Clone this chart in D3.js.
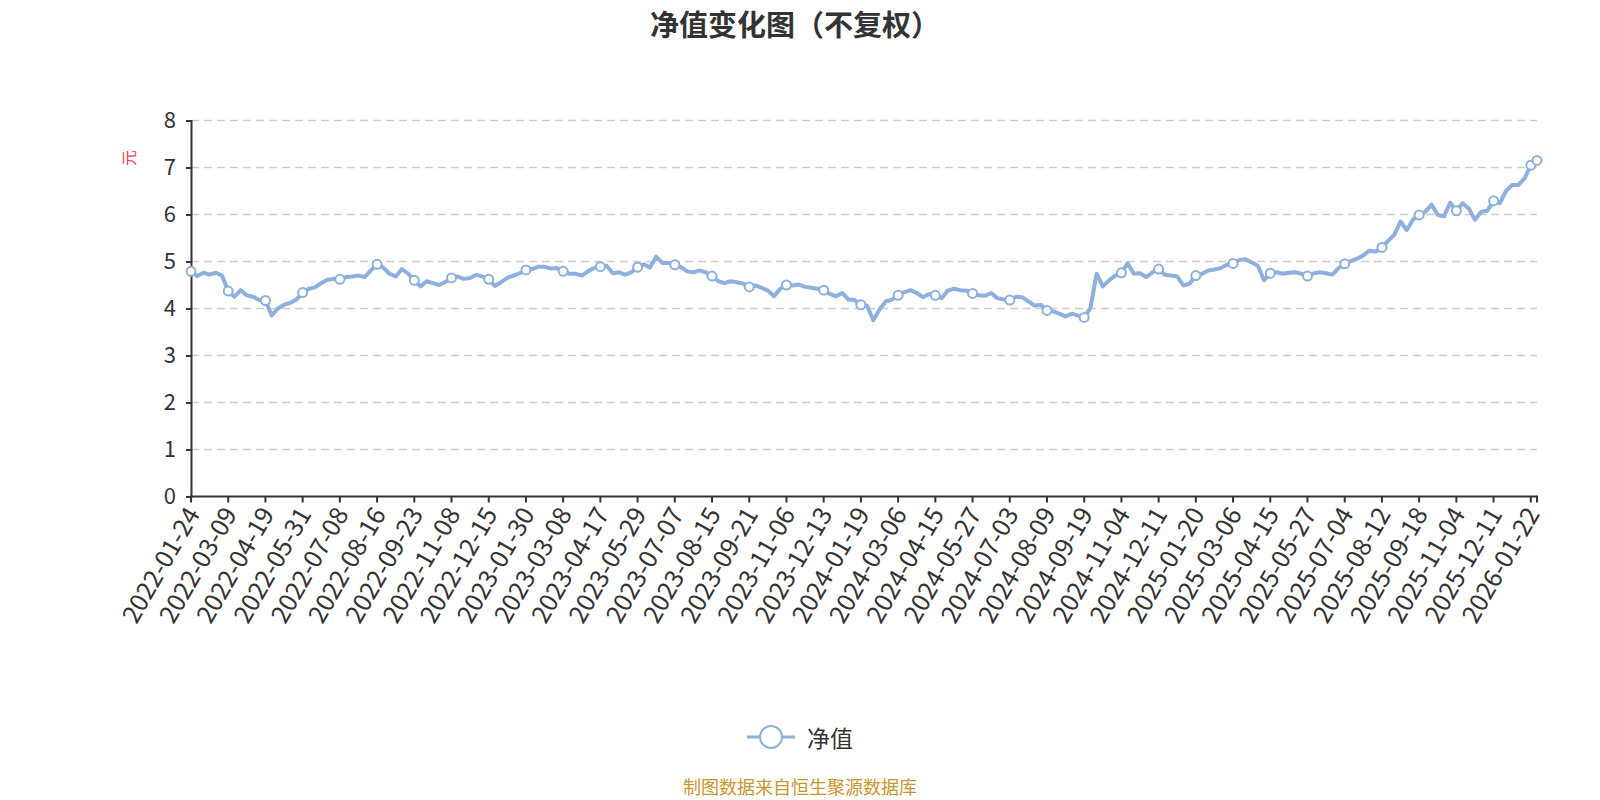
<!DOCTYPE html>
<html>
<head>
<meta charset="utf-8">
<script src="https://cdn.jsdelivr.net/npm/d3@7"></script>
<style>
  body { margin: 0; background: #fff; }
  #chart { width: 1600px; height: 800px; }
  text { font-family: "Noto Sans CJK SC", "Noto Sans", sans-serif; }
</style>
</head>
<body>
<div id="chart"></div>
<script>
// ||================================||
// || DATA                           ||
// ||================================||

var title = "净值变化图（不复权）",
    unitName = "元",
    seriesName = "净值",
    footer = "制图数据来自恒生聚源数据库";

var tickLabels = [
  "2022-01-24", "2022-03-09", "2022-04-19", "2022-05-31", "2022-07-08", "2022-08-16",
  "2022-09-23", "2022-11-08", "2022-12-15", "2023-01-30", "2023-03-08", "2023-04-17",
  "2023-05-29", "2023-07-07", "2023-08-15", "2023-09-21", "2023-11-06", "2023-12-13",
  "2024-01-19", "2024-03-06", "2024-04-15", "2024-05-27", "2024-07-03", "2024-08-09",
  "2024-09-19", "2024-11-04", "2024-12-11", "2025-01-20", "2025-03-06", "2025-04-15",
  "2025-05-27", "2025-07-04", "2025-08-12", "2025-09-18", "2025-11-04", "2025-12-11",
  "2026-01-22"
];

var yTicks = [0, 1, 2, 3, 4, 5, 6, 7, 8];

// samples between two labelled dates
var stepsPerTick = 6;

var nav = [
  4.79, 4.69, 4.76, 4.72, 4.76, 4.70, 4.37,
  4.25, 4.39, 4.28, 4.25, 4.18, 4.17,
  3.85, 4.00, 4.08, 4.12, 4.19, 4.34,
  4.42, 4.45, 4.54, 4.61, 4.63, 4.62,
  4.67, 4.68, 4.70, 4.67, 4.81, 4.94,
  4.87, 4.74, 4.68, 4.84, 4.74, 4.60,
  4.47, 4.58, 4.54, 4.50, 4.56, 4.65,
  4.68, 4.63, 4.65, 4.72, 4.68, 4.62,
  4.48, 4.56, 4.65, 4.70, 4.75, 4.82,
  4.84, 4.89, 4.89, 4.85, 4.86, 4.79,
  4.74, 4.74, 4.70, 4.79, 4.86, 4.89,
  4.91, 4.75, 4.77, 4.72, 4.77, 4.88,
  4.94, 4.87, 5.10, 4.97, 4.97, 4.93,
  4.88, 4.79, 4.77, 4.81, 4.77, 4.69,
  4.58, 4.54, 4.58, 4.56, 4.53, 4.46,
  4.49, 4.44, 4.38, 4.26, 4.42, 4.50,
  4.49, 4.51, 4.46, 4.44, 4.42, 4.39,
  4.31, 4.26, 4.33, 4.19, 4.18, 4.08,
  4.06, 3.75, 3.98, 4.15, 4.19, 4.28,
  4.35, 4.39, 4.33, 4.24, 4.31, 4.28,
  4.22, 4.38, 4.42, 4.39, 4.38, 4.32,
  4.28, 4.27, 4.33, 4.22, 4.19, 4.18,
  4.25, 4.24, 4.15, 4.06, 4.08, 3.96,
  3.94, 3.89, 3.83, 3.89, 3.85, 3.81,
  4.01, 4.74, 4.47, 4.60, 4.70, 4.76,
  4.96, 4.74, 4.75, 4.67, 4.77, 4.84,
  4.72, 4.70, 4.68, 4.49, 4.53, 4.70,
  4.74, 4.81, 4.83, 4.86, 4.93, 4.96,
  5.03, 5.05, 4.98, 4.91, 4.60, 4.75,
  4.77, 4.74, 4.76, 4.77, 4.74, 4.69,
  4.75, 4.77, 4.75, 4.72, 4.86, 4.95,
  5.01, 5.06, 5.13, 5.23, 5.21, 5.30,
  5.44, 5.57, 5.85, 5.67, 5.89, 5.99,
  6.06, 6.21, 5.99, 5.96, 6.25, 6.08,
  6.24, 6.13, 5.89, 6.06, 6.08, 6.29,
  6.24, 6.50, 6.63, 6.63, 6.77, 7.05,
  7.15
];

// ||================================||
// || CHART                          ||
// ||================================||

var width = 1600,
    height = 800;

var margin = {left: 191, right: 63, top: 120.5, bottom: 303.5};

var lineColor = "#8db0de",
    axisColor = "#333";

var svg = d3.select("#chart")
  .append("svg")
    .attr("width", width)
    .attr("height", height);

var x = d3.scaleLinear()
    .domain([0, nav.length - 1])
    .range([margin.left, width - margin.right]);

var y = d3.scaleLinear()
    .domain([0, 8])
    .range([height - margin.bottom, margin.top]);

svg.append("text")
    .attr("x", 795)
    .attr("y", 23)
    .attr("text-anchor", "middle")
    .attr("dominant-baseline", "central")
    .attr("font-size", 29)
    .attr("font-weight", "bold")
    .attr("fill", "#333")
    .text(title);

// grid lines
svg.append("g")
  .selectAll("line")
  .data(yTicks.filter(function(d) { return d > 0; }))
  .enter().append("line")
    .attr("x1", x.range()[0])
    .attr("x2", x.range()[1])
    .attr("y1", function(d) { return y(d); })
    .attr("y2", function(d) { return y(d); })
    .attr("stroke", "#ccc")
    .attr("stroke-width", 1.5)
    .attr("stroke-dasharray", "8,5");

// y axis
var yAxis = svg.append("g")
    .attr("transform", "translate(" + margin.left + ",0)")
    .call(d3.axisLeft(y).tickValues(yTicks).tickSize(5).tickPadding(10));

yAxis.select(".domain").attr("stroke", axisColor).attr("stroke-width", 2);
yAxis.selectAll(".tick line").attr("stroke", axisColor).attr("stroke-width", 2);
yAxis.selectAll(".tick text")
    .attr("font-size", 22)
    .attr("fill", "#333")
    .attr("font-family", "\"Noto Sans CJK SC\", sans-serif");

svg.append("text")
    .attr("transform", "translate(128,158) rotate(-90)")
    .attr("text-anchor", "middle")
    .attr("dominant-baseline", "central")
    .attr("font-size", 16)
    .attr("fill", "#ff4040")
    .text(unitName);

// x axis (labels every stepsPerTick samples)
var tickIdx = tickLabels.map(function(d, i) { return i * stepsPerTick; });
tickIdx.push(nav.length - 1);

var xAxis = svg.append("g")
    .attr("transform", "translate(0," + y(0) + ")");

xAxis.append("line")
    .attr("x1", x.range()[0] - 1)
    .attr("x2", x.range()[1] + 1)
    .attr("stroke", axisColor)
    .attr("stroke-width", 2);

xAxis.selectAll(".tick")
  .data(tickIdx)
  .enter().append("line")
    .attr("x1", function(d) { return x(d); })
    .attr("x2", function(d) { return x(d); })
    .attr("y1", 0)
    .attr("y2", 6)
    .attr("stroke", axisColor)
    .attr("stroke-width", 2);

xAxis.selectAll(".lbl")
  .data(tickLabels)
  .enter().append("text")
    .attr("transform", function(d, i) {
      return "translate(" + (x(i * stepsPerTick) + 2) + ",13) rotate(-60)";
    })
    .attr("text-anchor", "end")
    .attr("dy", "0.35em")
    .attr("font-size", 25)
    .attr("fill", "#333")
    .text(function(d) { return d; });

// series
var line = d3.line()
    .x(function(d, i) { return x(i); })
    .y(function(d) { return y(d); });

svg.append("path")
    .datum(nav)
    .attr("d", line)
    .attr("fill", "none")
    .attr("stroke", lineColor)
    .attr("stroke-width", 4)
    .attr("stroke-linejoin", "round");

svg.append("g")
  .selectAll("circle")
  .data(tickIdx)
  .enter().append("circle")
    .attr("cx", function(d) { return x(d); })
    .attr("cy", function(d) { return y(nav[d]); })
    .attr("r", 4.5)
    .attr("fill", "#fff")
    .attr("stroke", lineColor)
    .attr("stroke-width", 2);

// legend
var legend = svg.append("g")
    .attr("transform", "translate(771,737)");

legend.append("line")
    .attr("x1", -24)
    .attr("x2", 24)
    .attr("stroke", lineColor)
    .attr("stroke-width", 3);

legend.append("circle")
    .attr("r", 11)
    .attr("fill", "#fff")
    .attr("stroke", lineColor)
    .attr("stroke-width", 2);

legend.append("text")
    .attr("x", 36)
    .attr("dominant-baseline", "central")
    .attr("font-size", 23)
    .attr("fill", "#333")
    .text(seriesName);

svg.append("text")
    .attr("x", 800)
    .attr("y", 786)
    .attr("text-anchor", "middle")
    .attr("dominant-baseline", "central")
    .attr("font-size", 18)
    .attr("fill", "#c8962d")
    .text(footer);
</script>
</body>
</html>
